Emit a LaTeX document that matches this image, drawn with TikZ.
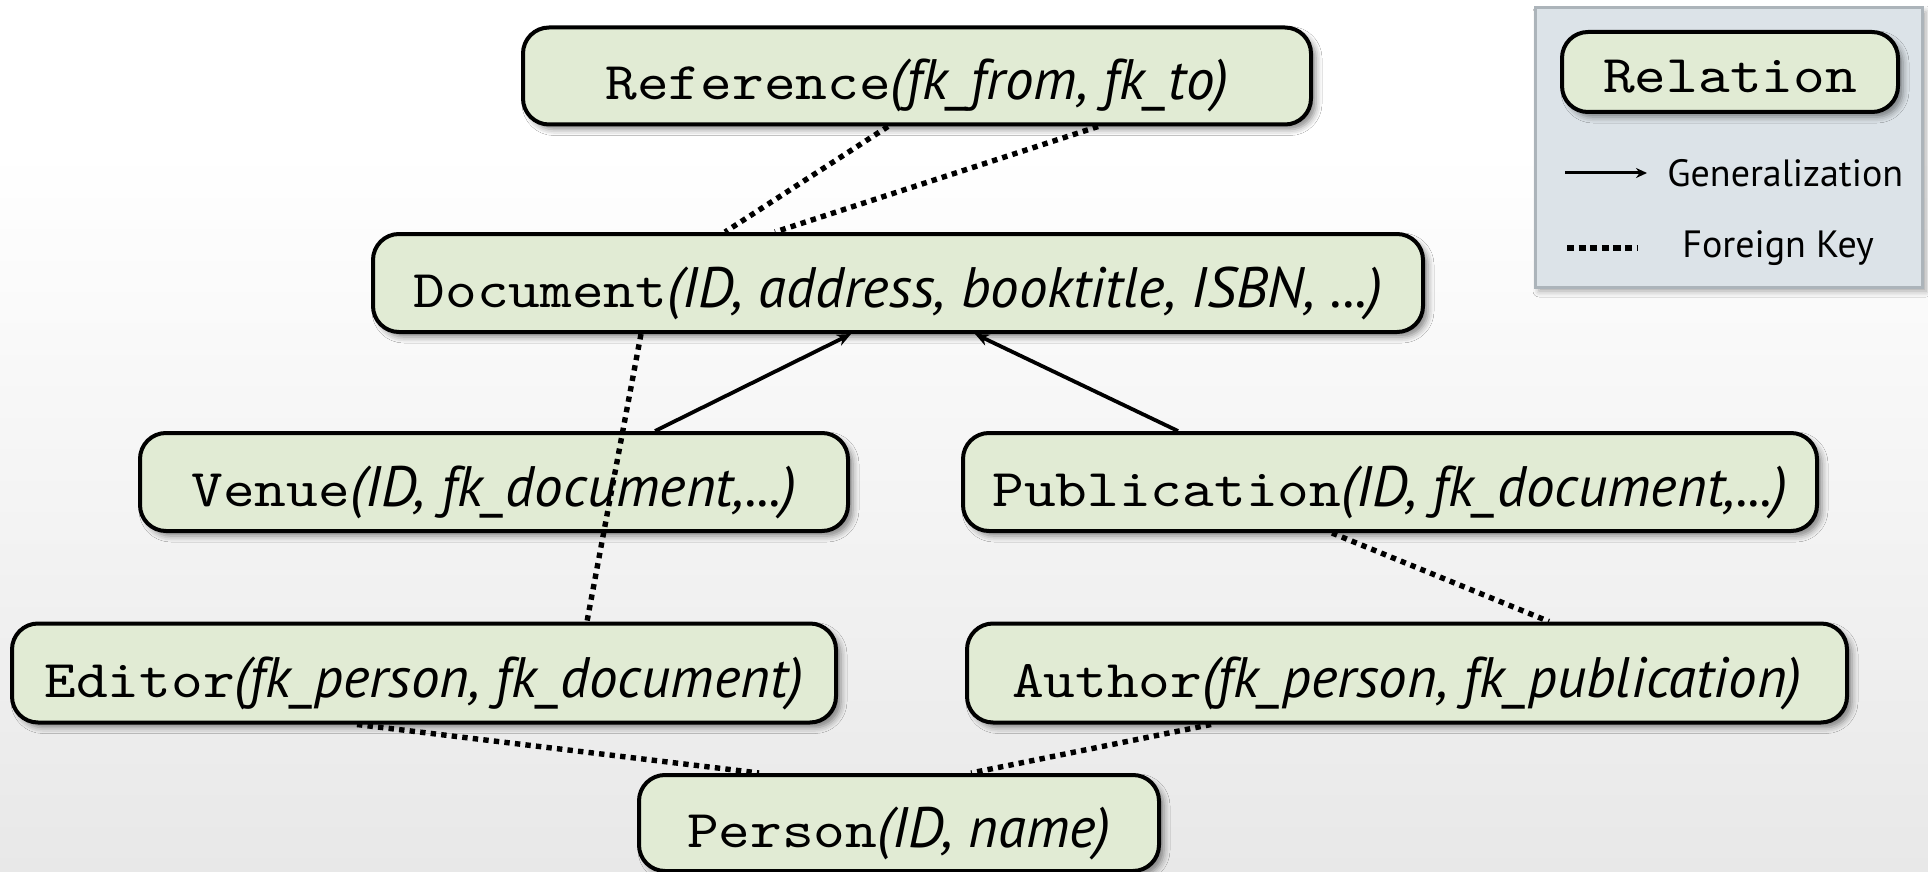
\documentclass[tikz,border=0pt]{standalone}
\usepackage{fontspec}
\setmainfont{PT Sans}
\setmonofont{lmmono10-regular.otf}[FakeStretch=1.14]
\usetikzlibrary{arrows.meta,shadows.blur}

\definecolor{relfill}{RGB}{225,235,212}
\definecolor{keyfill}{RGB}{220,227,232}
\definecolor{keyline}{RGB}{172,180,186}

% relation name in mono, attribute list in italics
\newcommand{\rel}[2]{\texttt{#1}{\fontsize{28.5}{30}\selectfont\textit{(#2)}}}

\tikzset{
    relation/.style={draw, line width=2pt, rounded corners=13pt, fill=relfill, inner sep=0pt,
        font=\fontsize{26.5}{30}\selectfont, text height=24pt, text depth=0pt,
        blur shadow={shadow xshift=2.5pt, shadow yshift=-2.5pt, shadow blur radius=3pt, shadow opacity=45}},
    fkey/.style={line width=2.7pt, dash pattern=on 2.7pt off 2.6pt},
    isa/.style={line width=1.9pt, -{Stealth[length=7pt,width=6pt]}},
    keytext/.style={anchor=west, inner sep=0pt, font=\fontsize{19}{23}\selectfont},
}

\begin{document}
\begin{tikzpicture}[x=0.5pt,y=-0.5pt]
\useasboundingbox (0,0) rectangle (1928,872);
\fill[white] (0,0) rectangle (1928,872);
\shade[top color=white, bottom color=black!9] (0,150) rectangle (1928,872);

% relations
\node[relation, minimum width=394pt, minimum height=48.5pt] (ref) at (917,76) {\rel{Reference}{fk\_from, fk\_to}};
\node[relation, minimum width=525pt, minimum height=49pt] (doc) at (898,283) {\rel{Document}{ID, address, booktitle, ISBN, ...}};
\node[relation, minimum width=354pt, minimum height=49pt] (venue) at (494,482) {\rel{Venue}{ID, fk\_document,...}};
\node[relation, minimum width=427pt, minimum height=49pt] (pub) at (1390,482) {\rel{Publication}{ID, fk\_document,...}};
\node[relation, minimum width=412pt, minimum height=49.5pt] (editor) at (424,673) {\rel{Editor}{fk\_person, fk\_document}};
\node[relation, minimum width=440pt, minimum height=49.5pt] (author) at (1407,673) {\rel{Author}{fk\_person, fk\_publication}};
\node[relation, minimum width=260pt, minimum height=48pt] (person) at (899,823) {\rel{Person}{ID, name}};

% foreign keys
\draw[fkey] ([xshift=-14.5pt]ref.south) -- ([xshift=-86.5pt]doc.north);
\draw[fkey] ([xshift=90.5pt]ref.south) -- ([xshift=-61.5pt]doc.north);
\draw[fkey] ([xshift=-128.5pt]doc.south) -- ([xshift=81.5pt]editor.north);
\draw[fkey] ([xshift=-29pt]pub.south) -- ([xshift=71pt]author.north);
\draw[fkey] ([xshift=-33.5pt]editor.south) -- ([xshift=-70pt]person.north);
\draw[fkey] ([xshift=-98pt]author.south) -- ([xshift=36pt]person.north);

% generalization
\draw[isa] ([xshift=80.5pt]venue.north) -- ([xshift=-23.5pt]doc.south);
\draw[isa] ([xshift=-106pt]pub.north) -- ([xshift=38.5pt]doc.south);

% legend
\node[draw=keyline, line width=1.5pt, fill=keyfill, minimum width=193.5pt, minimum height=139.5pt,
    blur shadow={shadow xshift=2pt, shadow yshift=-2pt, shadow blur radius=3pt, shadow opacity=35}] (key) at (1728.5,147.5) {};
\node[relation, minimum width=168pt, minimum height=40pt, text height=21pt] (keyrel) at (1730,72) {\texttt{Relation}};
\coordinate (gena) at (1565,173);
\coordinate (genb) at (1647,173);
\draw[line width=1.5pt, -{Stealth[length=5.5pt,width=5pt]}] (gena) -- (genb);
\node[keytext] (gen) at (1667,173) {Generalization};
\coordinate (fka) at (1567,248);
\coordinate (fkb) at (1638,248);
\draw[line width=2.6pt, dash pattern=on 3.6pt off 2.2pt] (fka) -- (fkb);
\node[keytext] (fk) at (1682,248) {Foreign Key};
\end{tikzpicture}
\end{document}
